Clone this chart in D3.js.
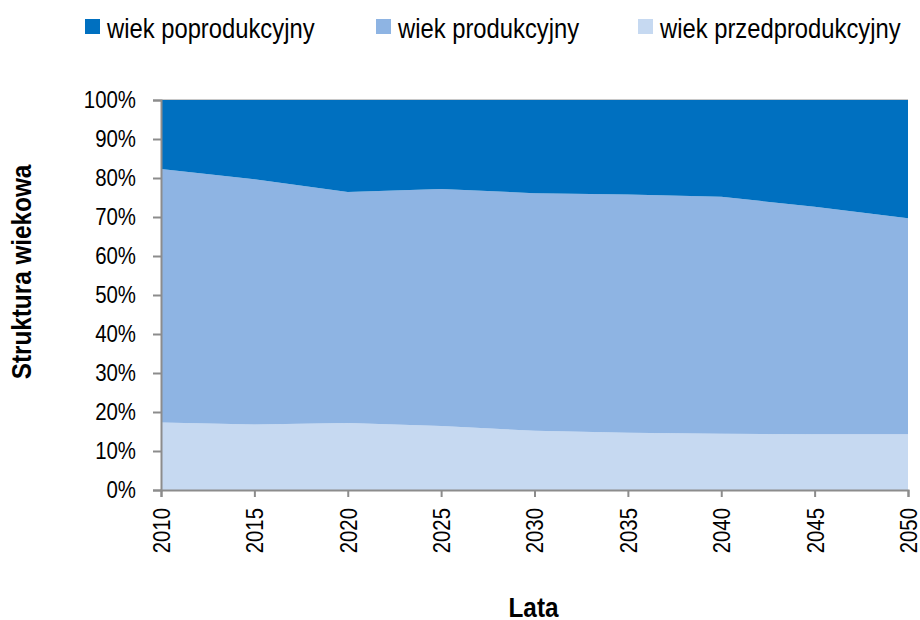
<!DOCTYPE html>
<html>
<head>
<meta charset="utf-8">
<script src="https://cdn.jsdelivr.net/npm/d3@7"></script>
<style>
  html, body { margin: 0; padding: 0; background: #fff; }
  svg text { font-family: 'Liberation Sans', Arial, sans-serif; fill: #000; }
</style>
</head>
<body>
<svg id="chart" width="920" height="620"></svg>
<script>
// ---- data ----
const years = [2010, 2015, 2020, 2025, 2030, 2035, 2040, 2045, 2050];
const przedprodukcyjny = [17.3, 16.8, 17.2, 16.4, 15.2, 14.7, 14.4, 14.3, 14.3];
const produkcyjny      = [65.0, 62.9, 59.2, 60.8, 60.9, 61.1, 60.8, 58.3, 55.4];
const poprodukcyjny    = [17.7, 20.3, 23.6, 22.8, 23.9, 24.2, 24.8, 27.4, 30.3];
const seriesNames = ["wiek przedprodukcyjny", "wiek produkcyjny", "wiek poprodukcyjny"];
const legendOrder = ["wiek poprodukcyjny", "wiek produkcyjny", "wiek przedprodukcyjny"];
const yTicks = [0, 10, 20, 30, 40, 50, 60, 70, 80, 90, 100];
const xTitle = "Lata";
const yTitle = "Struktura wiekowa";

const colors = {
  "wiek przedprodukcyjny": "#C6D9F1",
  "wiek produkcyjny": "#8EB4E3",
  "wiek poprodukcyjny": "#0070C0"
};

const rows = years.map((y, i) => ({
  year: y,
  "wiek przedprodukcyjny": przedprodukcyjny[i],
  "wiek produkcyjny": produkcyjny[i],
  "wiek poprodukcyjny": poprodukcyjny[i]
}));

const NARROW = 0.85; // emulate a condensed face

const svg = d3.select("#chart");
const m = { left: 161, right: 920 - 908, top: 100, bottom: 620 - 490 };
const W = 920, H = 620;

const x = d3.scaleLinear().domain([2010, 2050]).range([m.left, W - m.right]);
const y = d3.scaleLinear().domain([0, 100]).range([H - m.bottom, m.top]);

const stack = d3.stack().keys(seriesNames)
  .value((d, k) => d[k])
  .offset(d3.stackOffsetExpand);
const layers = stack(rows);

const area = d3.area()
  .x(d => x(d.data.year))
  .y0(d => y(d[0] * 100))
  .y1(d => y(d[1] * 100));

svg.append("g").selectAll("path").data(layers).join("path")
  .attr("d", area)
  .attr("fill", d => colors[d.key]);

// light frame lines at top and right of plot
svg.append("line")
  .attr("x1", m.left).attr("x2", W - m.right)
  .attr("y1", m.top - 0.5).attr("y2", m.top - 0.5)
  .attr("stroke", "#c8c8c8").attr("stroke-width", 1);

// axes
const axisColor = "#8c8c8c";
const yAxis = svg.append("g").attr("transform", `translate(${m.left},0)`)
  .call(d3.axisLeft(y).tickValues(yTicks).tickFormat(d => d + "%").tickSize(8).tickSizeOuter(8));
const xAxis = svg.append("g").attr("transform", `translate(0,${H - m.bottom})`)
  .call(d3.axisBottom(x).tickValues(years).tickFormat(d3.format("d")).tickSize(7).tickSizeOuter(7));

[yAxis, xAxis].forEach(g => {
  g.select(".domain").attr("stroke", axisColor).attr("stroke-width", 2);
  g.selectAll(".tick line").attr("stroke", axisColor).attr("stroke-width", 2);
});
yAxis.selectAll(".tick text")
  .attr("font-size", 24).style("fill", "#000")
  .attr("font-family", "'Liberation Sans', Arial, sans-serif")
  .attr("x", -25 / NARROW)
  .attr("transform", `scale(${NARROW},1)`);
xAxis.selectAll(".tick text")
  .attr("font-size", 24).style("fill", "#000")
  .attr("font-family", "'Liberation Sans', Arial, sans-serif")
  .attr("text-anchor", "end")
  .attr("transform", `rotate(-90) scale(${NARROW},1)`)
  .attr("x", -18 / NARROW).attr("y", 0).attr("dy", "0.35em");

// titles
svg.append("text")
  .attr("transform", `translate(${(m.left + W - m.right) / 2 - 1},617) scale(${NARROW + 0.05},1)`)
  .attr("text-anchor", "middle").attr("font-size", 27).attr("font-weight", "bold")
  .text(xTitle);
svg.append("text")
  .attr("transform", `translate(31,272) rotate(-90) scale(${NARROW + 0.05},1)`)
  .attr("text-anchor", "middle").attr("font-size", 27).attr("font-weight", "bold")
  .text(yTitle);

// legend
const legendX = [85, 376, 638];
const lg = svg.append("g");
legendOrder.forEach((name, i) => {
  const g = lg.append("g").attr("transform", `translate(${legendX[i]},0)`);
  g.append("rect").attr("x", 0).attr("y", 19).attr("width", 15).attr("height", 15).attr("fill", colors[name]);
  g.append("text").attr("transform", `translate(22,38) scale(${NARROW},1)`)
    .attr("font-size", 28).text(name);
});
</script>
</body>
</html>
